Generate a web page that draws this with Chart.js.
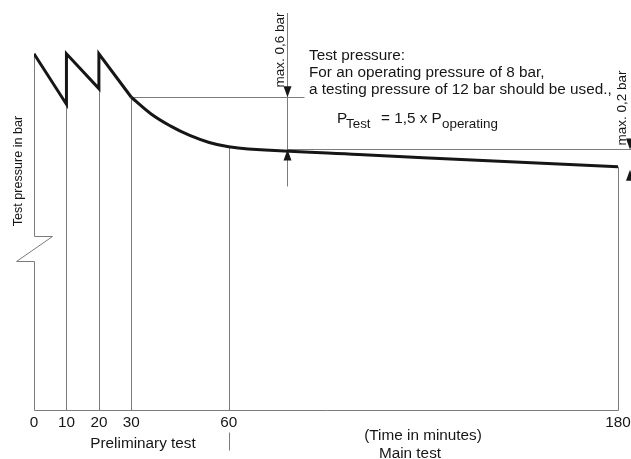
<!DOCTYPE html>
<html>
<head>
<meta charset="utf-8">
<script src="https://cdn.jsdelivr.net/npm/chart.js@4.4.1/dist/chart.umd.min.js"></script>
<style>
  html, body { margin: 0; padding: 0; background: #fff; }
  #wrap { width: 631px; height: 459px; }
</style>
</head>
<body>
<div id="wrap"><canvas id="chart" width="631" height="459"></canvas></div>
<script>
// time axis (minutes) and pressure (bar)
const tickMinutes = [0, 10, 20, 30, 60, 180];
const sawMinutes = [0, 10, 10, 20, 20, 30];
const sawBar = [12.0, 11.42, 12.0, 11.6, 12.0, 11.5];
const mainMinutes = [30, 36, 42, 48, 54, 60, 66, 100, 140, 180];
const mainBar = [11.5, 11.31, 11.17, 11.06, 10.98, 10.93, 10.905, 10.84, 10.77, 10.7];
const guideMinutes = [10, 20, 30, 60, 180];
const breakBar = [9.9, 9.62];     // zigzag in the pressure axis
const dimMinute = 78;             // where the 0,6 bar dimension sits
const refBar = [11.5, 10.9];      // max. 0,6 bar
const endBar = 10.7;              // max. 0,2 bar

const FONT = "'Liberation Sans', Arial, sans-serif";
const INK = '#161616';
const RULE = '#7c7c7c';

const pts = (xs, ys) => xs.map((m, i) => ({ x: m, y: ys[i] }));

function lowAt(m) {
  const vals = [];
  sawMinutes.forEach((t, i) => { if (t === m) vals.push(sawBar[i]); });
  mainMinutes.forEach((t, i) => { if (t === m) vals.push(mainBar[i]); });
  return Math.min(...vals);
}

function arrowHead(ctx, x, y, dir) { // dir 1 = points down, -1 = points up
  ctx.beginPath();
  ctx.moveTo(x, y);
  ctx.lineTo(x - 4, y - dir * 11);
  ctx.lineTo(x + 4, y - dir * 11);
  ctx.closePath();
  ctx.fill();
}

function vText(ctx, str, x, y, size) {
  ctx.save();
  ctx.translate(x, y);
  ctx.rotate(-Math.PI / 2);
  ctx.font = size + 'px ' + FONT;
  ctx.textAlign = 'center';
  ctx.textBaseline = 'middle';
  ctx.fillText(str, 0, 0);
  ctx.restore();
}

const drawing = {
  id: 'drawing',
  beforeDatasetsDraw(chart) {
    const { ctx, scales: { x, y } } = chart;
    const base = Math.round(y.getPixelForValue(y.min)) + 0.5;
    const px = m => Math.round(x.getPixelForValue(m)) + 0.5;
    ctx.save();
    ctx.strokeStyle = RULE;
    ctx.lineWidth = 1;
    ctx.beginPath();
    // baseline
    ctx.moveTo(px(0), base);
    ctx.lineTo(px(180), base);
    // drop lines
    guideMinutes.forEach(m => {
      ctx.moveTo(px(m), base);
      ctx.lineTo(px(m), y.getPixelForValue(lowAt(m)));
    });
    // pressure axis with break
    const b0 = Math.round(y.getPixelForValue(breakBar[0])) + 0.5;
    const b1 = Math.round(y.getPixelForValue(breakBar[1])) + 0.5;
    ctx.moveTo(px(0), y.getPixelForValue(sawBar[0]));
    ctx.lineTo(px(0), b0);
    ctx.lineTo(px(0) + 18, b0);
    ctx.lineTo(px(0) - 18, b1);
    ctx.lineTo(px(0), b1);
    ctx.lineTo(px(0), base);
    // dimension lines
    const dx = px(dimMinute);
    const r0 = Math.round(y.getPixelForValue(refBar[0])) + 0.5;
    const r1 = Math.round(y.getPixelForValue(refBar[1])) + 0.5;
    ctx.moveTo(px(30), r0);
    ctx.lineTo(dx + 17, r0);
    ctx.moveTo(dx, r1);
    ctx.lineTo(chart.width, r1);
    ctx.moveTo(dx, chart.chartArea.top);
    ctx.lineTo(dx, r1 + 37);
    // short mark under 60
    ctx.moveTo(px(60), base + 22);
    ctx.lineTo(px(60), base + 40);
    ctx.stroke();
    ctx.restore();
  },
  afterDraw(chart) {
    const { ctx, scales: { x, y } } = chart;
    const dx = Math.round(x.getPixelForValue(dimMinute)) + 0.5;
    ctx.save();
    ctx.fillStyle = INK;
    arrowHead(ctx, dx, y.getPixelForValue(refBar[0]), 1);
    arrowHead(ctx, dx, y.getPixelForValue(refBar[1]), -1);
    arrowHead(ctx, chart.width - 1, y.getPixelForValue(refBar[1]), 1);
    arrowHead(ctx, chart.width - 1, y.getPixelForValue(endBar) + 3, -1);

    // tick labels
    ctx.font = '15.3px ' + FONT;
    ctx.textAlign = 'center';
    ctx.textBaseline = 'alphabetic';
    tickMinutes.forEach(m => ctx.fillText(String(m), x.getPixelForValue(m), 427));
    ctx.fillText('Preliminary test', 143, 448);
    ctx.fillText('(Time in minutes)', 423, 440);
    ctx.fillText('Main test', 410, 458);

    // note
    ctx.textAlign = 'left';
    ctx.fillText('Test pressure:', 309, 59.5);
    ctx.fillText('For an operating pressure of 8 bar,', 309, 77);
    ctx.fillText('a testing pressure of 12 bar should be used.,', 309, 94);
    ctx.fillText('P', 337, 123);
    ctx.fillText('= 1,5 x P', 381, 123);
    ctx.font = '13.4px ' + FONT;
    ctx.fillText('Test', 346, 128);
    ctx.fillText('operating', 442, 128);

    vText(ctx, 'Test pressure in bar', 19, 171, 12.6);
    vText(ctx, 'max. 0,6 bar', dx - 7, 50, 13.5);
    vText(ctx, 'max. 0,2 bar', 622, 108, 13.5);
    ctx.restore();
  }
};

new Chart(document.getElementById('chart'), {
  type: 'line',
  data: {
    datasets: [{
      data: pts(sawMinutes, sawBar),
      borderColor: INK,
      borderWidth: 3,
      pointRadius: 0,
      tension: 0,
      borderJoinStyle: 'miter',
    }, {
      data: pts(mainMinutes, mainBar),
      borderColor: INK,
      borderWidth: 3,
      pointRadius: 0,
      tension: 0.4,
    }],
  },
  options: {
    responsive: false,
    animation: false,
    layout: { padding: { left: 34, right: 13, top: 13, bottom: 49 } },
    plugins: { legend: { display: false }, tooltip: { enabled: false } },
    scales: {
      x: { type: 'linear', min: 0, max: 180, display: false },
      y: { min: 7.9, max: 12.47, display: false },
    },
  },
  plugins: [drawing],
});
</script>
</body>
</html>
